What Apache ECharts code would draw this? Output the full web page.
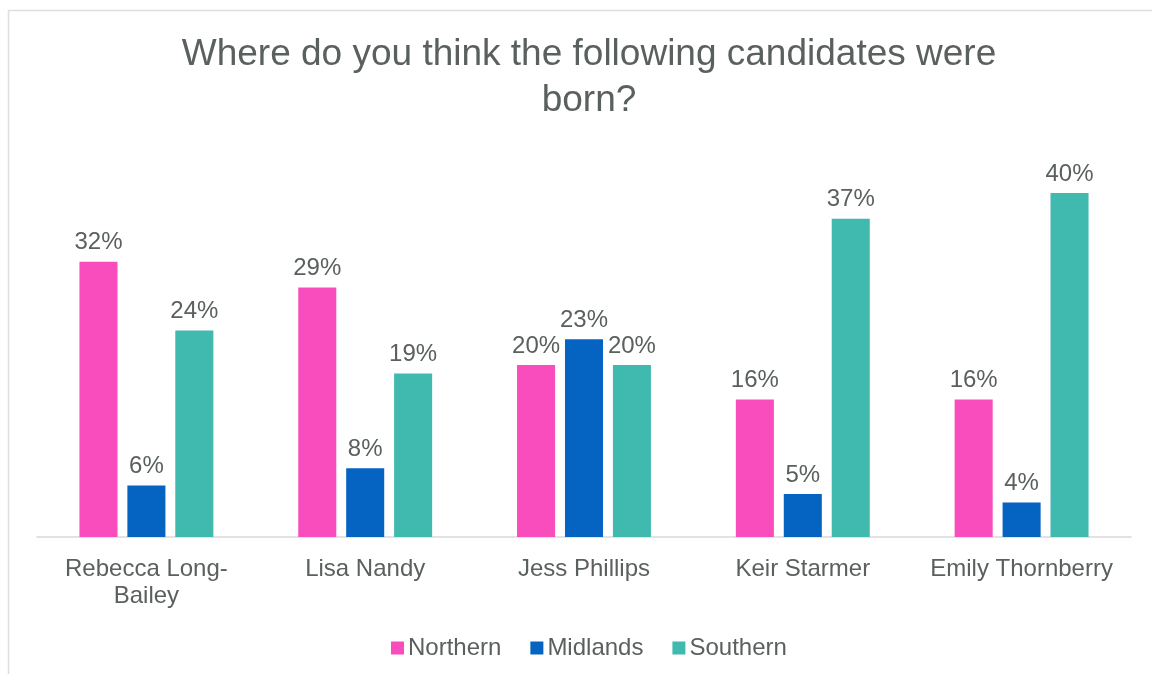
<!DOCTYPE html>
<html>
<head>
<meta charset="utf-8">
<script src="https://cdn.jsdelivr.net/npm/echarts@6/dist/echarts.min.js"></script>
<style>
html,body{margin:0;padding:0;background:#fff;}
#chart{width:1152px;height:674px;}
</style>
</head>
<body>
<div id="chart"></div>
<script>
const titleText = 'Where do you think the following candidates were\nborn?';
const categories = ['Rebecca Long-Bailey', 'Lisa Nandy', 'Jess Phillips', 'Keir Starmer', 'Emily Thornberry'];
const seriesNames = ['Northern', 'Midlands', 'Southern'];
const northern = [32, 29, 20, 16, 16];
const midlands = [6, 8, 23, 5, 4];
const southern = [24, 19, 20, 37, 40];
const colors = ['#F94DBE', '#0563C1', '#40B9AF'];

const textColor = '#5a605e';
const fontFamily = '"Liberation Sans", Arial, sans-serif';

const chart = echarts.init(document.getElementById('chart'));
const mk = (name, data, color) => ({
  name: name,
  type: 'bar',
  data: data,
  itemStyle: { color: color },
  barGap: '26%',
  barCategoryGap: '38.8%',
  label: {
    show: true,
    position: 'top',
    distance: 7,
    formatter: p => p.value + '%',
    color: textColor,
    fontSize: 24,
    fontFamily: fontFamily
  }
});

chart.setOption({
  animation: false,
  backgroundColor: '#fff',
  graphic: [{
    type: 'rect',
    shape: { x: 8.5, y: 10.5, width: 1300, height: 800 },
    style: { fill: 'none', stroke: '#dedede', lineWidth: 1.5 },
    silent: true
  }],
  title: {
    text: titleText,
    left: 584,
    textAlign: 'center',
    top: 27,
    textStyle: {
      color: textColor,
      fontSize: 37,
      fontWeight: 'normal',
      lineHeight: 46,
      fontFamily: fontFamily
    }
  },
  legend: {
    data: seriesNames,
    left: 386,
    top: 631,
    icon: 'rect',
    itemWidth: 13,
    itemHeight: 13,
    itemGap: 29,
    textStyle: { color: textColor, fontSize: 24, fontFamily: fontFamily, padding: [0, 0, 0, -1] }
  },
  grid: { left: 37, right: 21, top: 150, bottom: 137, containLabel: false },
  xAxis: {
    type: 'category',
    data: categories,
    axisLine: { lineStyle: { color: '#d9d9d9', width: 1.5 } },
    axisTick: { show: false },
    axisLabel: {
      color: textColor,
      fontSize: 24,
      lineHeight: 27,
      margin: 19,
      fontFamily: fontFamily,
      interval: 0,
      formatter: v => v.replace('Long-', 'Long-\n')
    }
  },
  yAxis: {
    type: 'value',
    min: 0,
    max: 45,
    show: false,
    splitLine: { show: false }
  },
  series: [
    mk(seriesNames[0], northern, colors[0]),
    mk(seriesNames[1], midlands, colors[1]),
    mk(seriesNames[2], southern, colors[2])
  ]
});
</script>
</body>
</html>
